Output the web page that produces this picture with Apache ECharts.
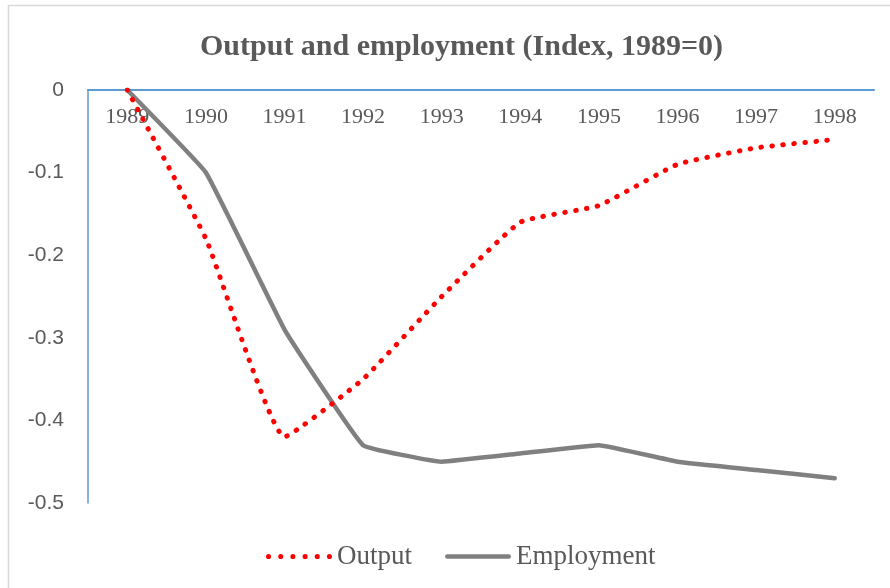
<!DOCTYPE html>
<html>
<head>
<meta charset="utf-8">
<script src="https://cdn.jsdelivr.net/npm/echarts@6/dist/echarts.min.js"></script>
<style>
  html, body { margin: 0; padding: 0; background: #fff; }
  #chart { width: 890px; height: 588px; }
</style>
</head>
<body>
<div id="chart"></div>
<script>
var years = ["1989", "1990", "1991", "1992", "1993", "1994", "1995", "1996", "1997", "1998"];
var output = [0, -0.18, -0.42, -0.35, -0.25, -0.16, -0.14, -0.09, -0.07, -0.06];
var employment = [0, -0.10, -0.29, -0.43, -0.45, -0.44, -0.43, -0.45, -0.46, -0.47];

var serif = "'Liberation Serif', 'Times New Roman', serif";
var textColor = "#595959";

// legend icons: a row of red dots and a thick rounded bar
var dotsIcon = "path://M0,2.5 A2.5,2.5 0 1 1 5,2.5 A2.5,2.5 0 1 1 0,2.5 Z" +
  "M12,2.5 A2.5,2.5 0 1 1 17,2.5 A2.5,2.5 0 1 1 12,2.5 Z" +
  "M24,2.5 A2.5,2.5 0 1 1 29,2.5 A2.5,2.5 0 1 1 24,2.5 Z" +
  "M36,2.5 A2.5,2.5 0 1 1 41,2.5 A2.5,2.5 0 1 1 36,2.5 Z" +
  "M48,2.5 A2.5,2.5 0 1 1 53,2.5 A2.5,2.5 0 1 1 48,2.5 Z" +
  "M60,2.5 A2.5,2.5 0 1 1 65,2.5 A2.5,2.5 0 1 1 60,2.5 Z";
var barIcon = "path://M2.25,0 L63.75,0 A2.25,2.25 0 0 1 63.75,4.5 L2.25,4.5 A2.25,2.25 0 0 1 2.25,0 Z";

var myChart = echarts.init(document.getElementById("chart"));
myChart.setOption({
  animation: false,
  title: {
    text: "Output and employment (Index, 1989=0)",
    left: 195,
    top: 27,
    textStyle: {
      fontFamily: serif,
      fontWeight: "bold",
      fontSize: 30,
      color: textColor,
    },
  },
  graphic: [
    {
      type: "rect",
      shape: { x: 8.5, y: 5.5, width: 900, height: 600 },
      style: { fill: "none", stroke: "#d9d9d9", lineWidth: 1.5 },
      silent: true,
    },
  ],
  grid: {
    left: 88,
    right: 16,
    top: 90,
    bottom: 85,
  },
  legend: {
    top: 538,
    left: 261,
    itemWidth: 66,
    itemHeight: 14,
    itemGap: 33,
    textStyle: {
      fontFamily: serif,
      fontSize: 27,
      color: textColor,
    },
    data: [
      { name: "Output", icon: dotsIcon, itemStyle: { color: "#FF0000" } },
      { name: "Employment", icon: barIcon, itemStyle: { color: "#808080" } },
    ],
  },
  xAxis: {
    type: "category",
    position: "top",
    data: years,
    axisLine: { lineStyle: { color: "#5B9BD5", width: 2 } },
    axisTick: { show: false },
    axisLabel: {
      inside: true,
      margin: 16,
      fontFamily: serif,
      fontSize: 22,
      color: textColor,
    },
    splitLine: { show: false },
  },
  yAxis: {
    type: "value",
    min: -0.5,
    max: 0,
    interval: 0.1,
    axisLine: { show: true, lineStyle: { color: "#5B9BD5", width: 1.5 } },
    axisTick: { show: false },
    splitLine: { show: false },
    axisLabel: {
      margin: 24,
      fontFamily: "'Liberation Sans', Arial, sans-serif",
      fontSize: 21,
      color: textColor,
      formatter: function (v) {
        return String(Math.round(v * 10) / 10);
      },
    },
  },
  series: [
    {
      name: "Output",
      type: "line",
      data: output,
      symbol: "none",
      smooth: 0.12,
      z: 3,
      lineStyle: {
        color: "#FF0000",
        width: 5,
        type: [0.5, 10.5],
        cap: "round",
      },
      itemStyle: { color: "#FF0000" },
    },
    {
      name: "Employment",
      type: "line",
      data: employment,
      symbol: "none",
      smooth: 0.08,
      z: 2,
      lineStyle: {
        color: "#808080",
        width: 4.5,
        cap: "round",
      },
      itemStyle: { color: "#808080" },
    },
  ],
});
</script>
</body>
</html>
